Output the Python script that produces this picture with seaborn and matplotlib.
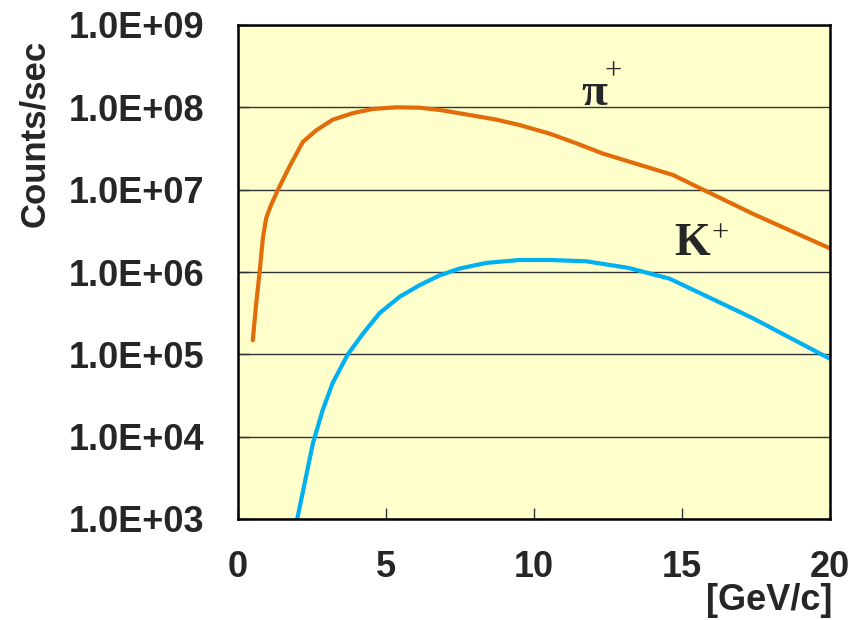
import numpy as np
import pandas as pd
import matplotlib
matplotlib.use("Agg")
import matplotlib.pyplot as plt
from matplotlib.ticker import FixedLocator, FixedFormatter
import seaborn as sns

# Beam momentum [GeV/c] and count rates [counts/sec]
p_pion = [0.50, 0.61, 0.73, 0.84, 0.95, 1.09, 1.35, 1.74, 2.19, 2.64, 3.20, 3.88, 4.55,
          5.34, 6.13, 6.81, 7.8, 8.72, 9.51, 10.52, 11.42, 12.32, 13.5, 14.69, 17.39, 19.98]
rate_pion = [1.48e5, 3.98e5, 1.0e6, 2.57e6, 4.47e6, 6.17e6, 1.0e7, 1.91e7, 3.8e7, 5.25e7,
             7.08e7, 8.5e7, 9.55e7, 1.0e8, 9.9e7, 9.3e7, 8.1e7, 7.1e7, 6.1e7, 4.8e7,
             3.67e7, 2.75e7, 2.04e7, 1.51e7, 5.1e6, 1.95e6]

p_kaon = [2.0, 2.25, 2.53, 2.86, 3.20, 3.71, 4.22, 4.78, 5.46, 6.13, 6.81, 7.48, 8.39,
          9.51, 10.52, 11.76, 13.2, 14.58, 17.39, 19.98]
rate_kaon = [1.0e3, 2.7e3, 8.3e3, 2.1e4, 4.5e4, 1.0e5, 1.78e5, 3.16e5, 5.0e5, 6.9e5,
             9.1e5, 1.1e6, 1.29e6, 1.4e6, 1.4e6, 1.35e6, 1.12e6, 8.3e5, 2.75e5, 8.9e4]

series_names = ["pi+", "K+"]
series_colors = ["#E36C0A", "#00B0F0"]

x_ticks = [0, 5, 10, 15, 20]
y_ticks = [1e3, 1e4, 1e5, 1e6, 1e7, 1e8, 1e9]
y_tick_labels = ["1.0E+03", "1.0E+04", "1.0E+05", "1.0E+06", "1.0E+07", "1.0E+08", "1.0E+09"]

df = pd.concat([
    pd.DataFrame({"p": p_pion, "rate": rate_pion, "particle": series_names[0]}),
    pd.DataFrame({"p": p_kaon, "rate": rate_kaon, "particle": series_names[1]}),
], ignore_index=True)

sns.set_style("ticks")
plt.rcParams["font.family"] = ["Liberation Sans", "DejaVu Sans"]

fig = plt.figure(figsize=(8.64, 6.2), dpi=100)
ax = fig.add_axes([238 / 864, 1 - 519 / 620, (830 - 238) / 864, (519 - 25) / 620])
ax.set_facecolor("#FFFFCC")

sns.lineplot(data=df, x="p", y="rate", hue="particle", palette=series_colors,
             hue_order=series_names, linewidth=3, legend=False, sort=False,
             estimator=None, ax=ax, solid_capstyle="round", solid_joinstyle="round")

ax.set_yscale("log")
ax.set_xlim(0, 20)
ax.set_ylim(1e3, 1e9)

ax.yaxis.set_major_locator(FixedLocator(y_ticks))
ax.yaxis.set_major_formatter(FixedFormatter(y_tick_labels))
ax.yaxis.set_minor_locator(FixedLocator([]))
ax.xaxis.set_major_locator(FixedLocator(x_ticks))
ax.set_xticklabels([str(t) for t in x_ticks])

ax.grid(axis="y", which="major", color="#333333", linewidth=1.0)
ax.grid(axis="x", visible=False)
ax.set_axisbelow(True)

for side in ["left", "right", "top", "bottom"]:
    ax.spines[side].set_visible(True)
    ax.spines[side].set_color("black")
    ax.spines[side].set_linewidth(1.8)

ax.tick_params(axis="both", which="major", direction="in", length=8, width=1.0,
               color="#333333", labelsize=26)
ax.tick_params(axis="y", pad=24)
ax.tick_params(axis="x", pad=22)
for lab in ax.get_xticklabels() + ax.get_yticklabels():
    lab.set_fontweight("bold")

ax.set_xlabel("")
ax.set_ylabel("")
fig.text(35 / 864, 1 - 133 / 620, "Counts/sec", rotation=90, ha="center", va="center",
         fontsize=25, fontweight="bold")
fig.text(832 / 864, 1 - 600 / 620, "[GeV/c]", ha="right", va="center",
         fontsize=26, fontweight="bold")

# Curve labels: particle symbol with a raised charge sign
serif = ["Liberation Serif", "DejaVu Serif"]
ax.annotate("π", xy=(11.6, 10 ** 8.03), ha="left", va="baseline",
            fontsize=34, fontweight="bold", family=serif)
ax.annotate("+", xy=(11.6, 10 ** 8.03), xytext=(23, 24), textcoords="offset points",
            ha="center", va="center", fontsize=22, family=serif)
ax.annotate("K", xy=(14.75, 10 ** 6.205), ha="left", va="baseline",
            fontsize=33, fontweight="bold", family=serif)
ax.annotate("+", xy=(14.75, 10 ** 6.205), xytext=(33, 15), textcoords="offset points",
            ha="center", va="center", fontsize=22, family=serif)

fig.savefig("out.png", dpi=100)
